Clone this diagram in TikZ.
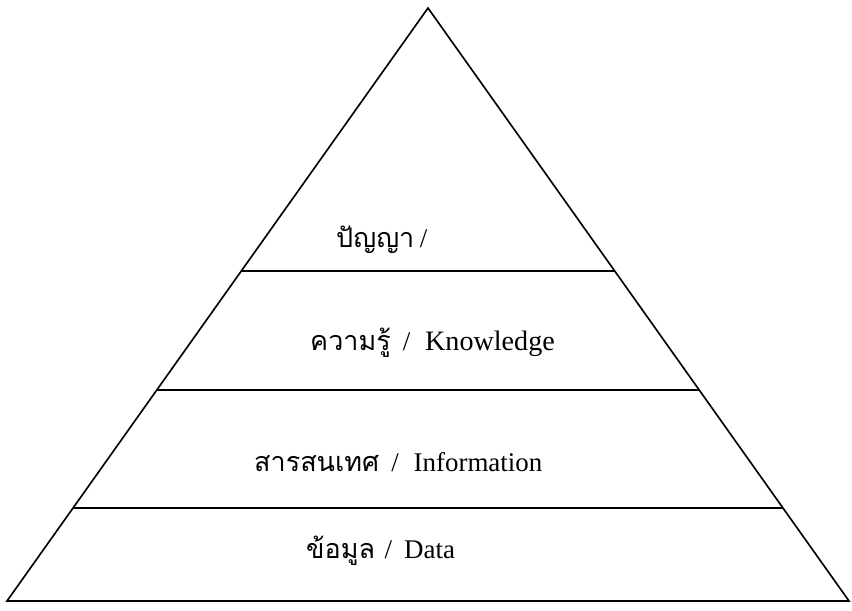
\documentclass[tikz,border=0pt]{standalone}
\usepackage{fontspec}
\setmainfont{Liberation Serif}
\newfontfamily\thaifont[Script=Thai]{Loma}
\newcommand{\sep}{\hspace{0.45em}/\hspace{0.55em}}
\usetikzlibrary{calc}

\begin{document}
\begin{tikzpicture}[x=0.3mm,y=-0.3mm,
	layer/.style={anchor=base west,inner sep=0pt,font=\fontsize{23}{26}\selectfont}]
		\useasboundingbox (0,0) rectangle (852,610);
		% Define points
		\coordinate (apex) at (428,8);
		\coordinate (BL) at (7,601);
		\coordinate (BR) at (849,601);
		
		% Draw pyramid
		\draw[line width=1.4pt,line join=miter] (apex) -- (BR) -- (BL) -- cycle;
		
		% Draw dividing lines
		\draw[line width=1.2pt] ($(apex)!0.4435!(BL)$) -- ($(apex)!0.4435!(BR)$);
		\draw[line width=1.2pt] ($(apex)!0.644!(BL)$) -- ($(apex)!0.644!(BR)$);
		\draw[line width=1.2pt] ($(apex)!0.843!(BL)$) -- ($(apex)!0.843!(BR)$);
		
		% Label layers
		\node[layer] (wisdom) at (336,247) {{\thaifont ปัญญา}\hspace{0.2em}/};
		\node[layer] (knowledge) at (310,350) {{\thaifont ความรู้}\sep {\fontsize{24}{26}\selectfont Knowledge}};
		\node[layer] (information) at (254,471) {{\thaifont สารสนเทศ}\sep Information};
		\node[layer] (data) at (306,558) {{\thaifont ข้อมูล}\hspace{0.35em}/\hspace{0.45em}Data};
	\end{tikzpicture}
\end{document}
